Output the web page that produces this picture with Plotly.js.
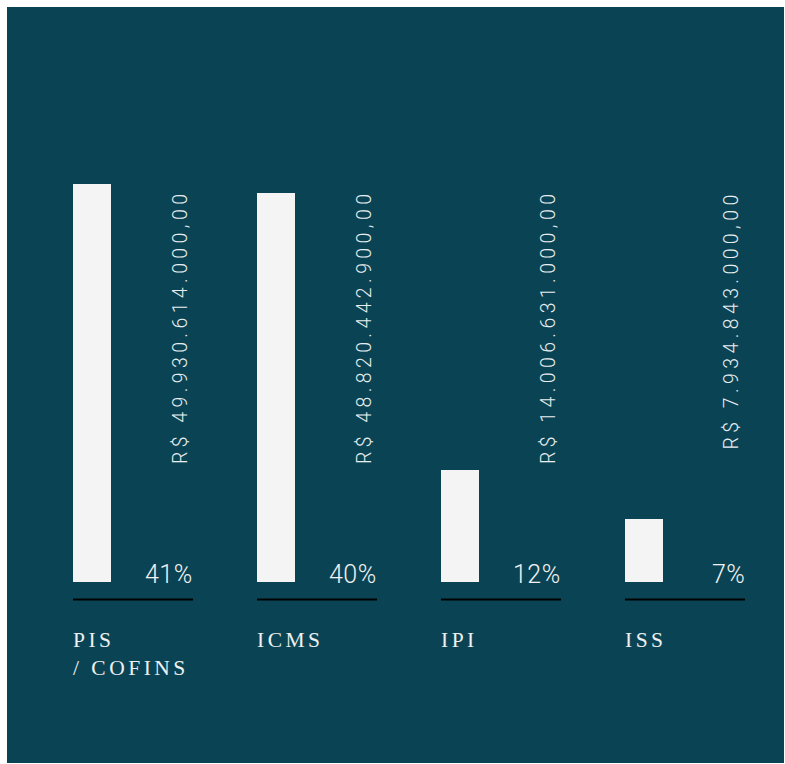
<!DOCTYPE html>
<html>
<head>
<meta charset="utf-8">
<script src="https://cdn.plot.ly/plotly-3.0.1.min.js"></script>
<style>
  html, body { margin: 0; padding: 0; background: #ffffff; }
  #chart { width: 785px; height: 764px; }
  text.annotation-text[style*="font-size: 19.5px"] { letter-spacing: 4.4px; }
  text.annotation-text[style*="Liberation Serif"] { letter-spacing: 3.5px; }
  text.annotation-text[style*="font-size: 25px"] { letter-spacing: 0.5px; }
</style>
</head>
<body>
<div id="chart"></div>
<script>
// ---- data ----
var categories = ["PIS<br>/ COFINS", "ICMS", "IPI", "ISS"];
var values = [49930614000, 48820442900, 14006631000, 7934843000]; // R$
var percents = [41, 40, 12, 7];

function fmtBRL(v) {
  var parts = v.toFixed(2).split(".");
  var intPart = parts[0].replace(/\B(?=(\d{3})+(?!\d))/g, ".");
  return "R$ " + intPart + "," + parts[1];
}

var idx = categories.map(function (_, i) { return i; });
var billions = values.map(function (v) { return v / 1e9; });

var BG = "#0a4454";
var BAR = "#f4f4f4";
var barW = 0.2065;
var lineEnd = 0.549;
var px = 1 / 184;

var trace = {
  type: "bar",
  x: idx,
  y: billions,
  width: barW,
  marker: { color: BAR, line: { width: 0 } },
  hoverinfo: "skip"
};

var annotations = [];
var shapes = [];
idx.forEach(function (i) {
  // rotated value label
  annotations.push({
    xref: "x", yref: "paper",
    x: i + 0.478, y: (763 - 188) / 756,
    xanchor: "center", yanchor: "top",
    text: fmtBRL(values[i]),
    textangle: -90,
    showarrow: false,
    font: { family: "Roboto", weight: 300, size: 19.5, color: "#e8eef0" }
  });
  // percentage
  annotations.push({
    xref: "x", yref: "paper",
    x: i + lineEnd + 2 * px, y: (763 - 574) / 756,
    xanchor: "right", yanchor: "middle",
    text: percents[i] + "%",
    showarrow: false,
    font: { family: "Roboto", weight: 300, size: 25, color: "#f2f2f2" }
  });
  // category label
  annotations.push({
    xref: "x", yref: "paper",
    x: i - barW / 2 - 2 * px, y: (763 - 626) / 756,
    xanchor: "left", yanchor: "top",
    align: "left",
    text: categories[i],
    showarrow: false,
    font: { family: "Liberation Serif", size: 21.5, color: "#eef0f0" }
  });
  // black underline
  shapes.push({
    type: "line", xref: "x", yref: "paper",
    x0: i - barW / 2, x1: i + lineEnd,
    y0: (763 - 599.5) / 756, y1: (763 - 599.5) / 756,
    line: { color: "#000000", width: 2 }
  });
});

var layout = {
  width: 785, height: 764,
  margin: { l: 7, r: 1, t: 7, b: 1, pad: 0 },
  paper_bgcolor: "#ffffff",
  plot_bgcolor: BG,
  showlegend: false,
  xaxis: { range: [-0.462, 3.761], showgrid: false, zeroline: false, showticklabels: false, showline: false, ticks: "", fixedrange: true },
  yaxis: { range: [-22.71, 72.146], showgrid: false, zeroline: false, showticklabels: false, showline: false, ticks: "", fixedrange: true },
  annotations: annotations,
  shapes: shapes,
  bargap: 0
};

Plotly.newPlot("chart", [trace], layout, { displayModeBar: false, staticPlot: true });
</script>
</body>
</html>
